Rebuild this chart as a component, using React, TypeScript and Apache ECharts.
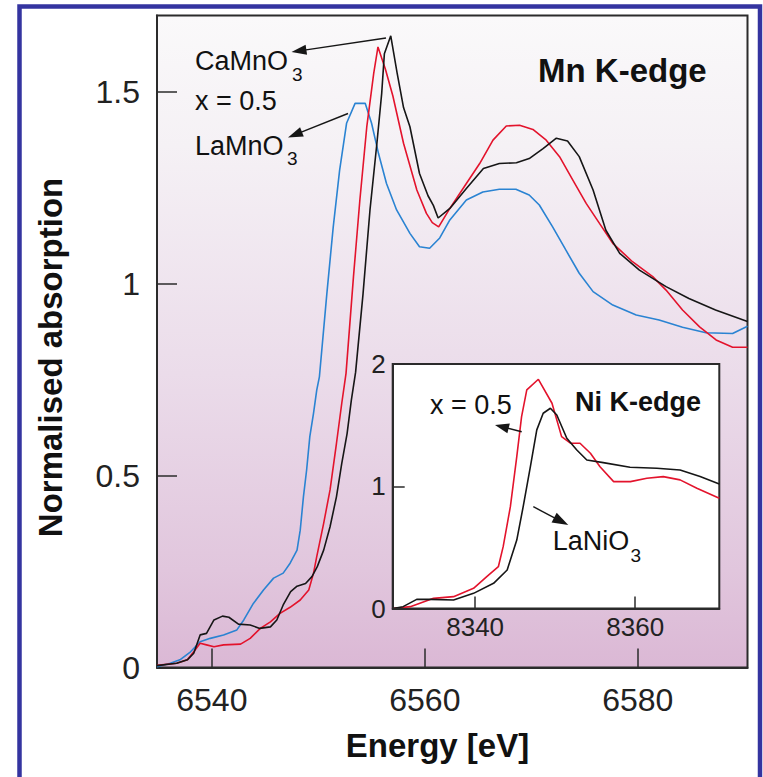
import React, { useEffect, useRef } from "react";
import * as echarts from "echarts";

// ---- Mn K-edge (main plot) ----
const mnTicksX = [6540, 6560, 6580];
const mnTicksY = [0, 0.5, 1, 1.5];

const caMnO3E = [6534.85, 6536.7, 6537.7, 6538.3, 6538.9, 6539.5, 6540.2, 6541.0, 6541.6, 6542.5, 6543.6, 6544.5, 6545.5, 6546.1, 6546.7, 6547.4, 6548.0, 6548.8, 6549.4, 6549.9, 6550.5, 6551.1, 6551.7, 6552.2, 6552.7, 6553.1, 6553.5, 6554.2, 6554.85, 6555.5, 6555.95, 6556.2, 6556.8, 6557.4, 6558.0, 6558.6, 6559.5, 6560.3, 6560.8, 6561.25, 6562.35, 6563.9, 6565.5, 6567.0, 6568.6, 6569.8, 6571.1, 6572.35, 6573.4, 6574.5, 6575.8, 6577.0, 6578.3, 6580.15, 6582.65, 6584.8, 6587.3, 6590.3];
const caMnO3Mu = [0.005, 0.011, 0.02, 0.037, 0.085, 0.089, 0.124, 0.134, 0.131, 0.113, 0.111, 0.102, 0.106, 0.124, 0.163, 0.198, 0.212, 0.219, 0.237, 0.263, 0.306, 0.367, 0.445, 0.532, 0.61, 0.697, 0.77, 0.975, 1.193, 1.367, 1.497, 1.6, 1.647, 1.55, 1.46, 1.41, 1.288, 1.23, 1.205, 1.172, 1.197, 1.249, 1.301, 1.314, 1.316, 1.327, 1.353, 1.38, 1.373, 1.332, 1.245, 1.14, 1.08, 1.036, 0.993, 0.962, 0.932, 0.902];

const mnMixE = [6534.85, 6536.7, 6537.7, 6538.3, 6538.9, 6539.5, 6540.2, 6541.1, 6542.7, 6543.6, 6544.55, 6545.5, 6546.4, 6547.35, 6548.3, 6549.1, 6549.55, 6549.85, 6550.5, 6551.1, 6551.7, 6552.2, 6552.6, 6553.3, 6553.9, 6554.55, 6555.2, 6555.6, 6556.3, 6557.0, 6558.0, 6559.25, 6560.15, 6560.7, 6561.3, 6562.35, 6563.9, 6565.15, 6566.4, 6567.65, 6568.9, 6570.15, 6571.4, 6572.65, 6573.9, 6575.15, 6576.4, 6577.65, 6579.5, 6581.4, 6582.65, 6584.2, 6585.8, 6587.35, 6588.9, 6590.3];
const mnMixMu = [0.006, 0.011, 0.02, 0.041, 0.063, 0.059, 0.054, 0.059, 0.061, 0.076, 0.102, 0.119, 0.141, 0.157, 0.176, 0.202, 0.246, 0.289, 0.376, 0.463, 0.584, 0.689, 0.767, 1.019, 1.219, 1.41, 1.549, 1.618, 1.56, 1.49, 1.367, 1.245, 1.184, 1.16, 1.149, 1.197, 1.262, 1.314, 1.375, 1.412, 1.414, 1.403, 1.375, 1.332, 1.271, 1.21, 1.158, 1.106, 1.058, 1.019, 0.984, 0.932, 0.888, 0.854, 0.835, 0.835];

const laMnO3E = [6534.85, 6536.1, 6537.0, 6538.0, 6538.9, 6539.85, 6541.1, 6542.35, 6543.0, 6543.9, 6544.85, 6545.8, 6546.7, 6547.35, 6548.0, 6548.3, 6548.6, 6548.9, 6549.2, 6549.55, 6549.85, 6550.1, 6550.8, 6551.4, 6552.0, 6552.65, 6553.45, 6554.4, 6555.0, 6555.65, 6556.4, 6557.35, 6558.6, 6559.5, 6560.45, 6561.4, 6562.35, 6563.9, 6565.45, 6567.0, 6568.55, 6569.8, 6570.75, 6572.0, 6573.25, 6574.5, 6575.8, 6577.65, 6579.85, 6582.0, 6584.2, 6586.4, 6588.9, 6590.3];
const laMnO3Mu = [0.002, 0.011, 0.02, 0.041, 0.067, 0.076, 0.085, 0.098, 0.124, 0.167, 0.202, 0.233, 0.246, 0.272, 0.306, 0.358, 0.445, 0.515, 0.602, 0.663, 0.723, 0.758, 0.975, 1.149, 1.297, 1.419, 1.471, 1.471, 1.419, 1.34, 1.262, 1.193, 1.132, 1.097, 1.093, 1.12, 1.167, 1.219, 1.24, 1.247, 1.247, 1.232, 1.206, 1.149, 1.088, 1.028, 0.98, 0.945, 0.919, 0.906, 0.887, 0.873, 0.871, 0.89];

// ---- Ni K-edge (inset) ----
const niTicksX = [8340, 8360];
const niTicksY = [0, 1, 2];

const niMixE = [8329.7, 8331.9, 8334.8, 8337.3, 8339.8, 8341.45, 8342.9, 8343.5, 8344.4, 8345.2, 8345.8, 8346.45, 8347.9, 8349.6, 8350.8, 8351.9, 8353.1, 8354.4, 8355.6, 8357.3, 8359.4, 8361.45, 8363.5, 8365.6, 8367.7, 8370.5];
const niMixMu = [0, 0.015, 0.083, 0.097, 0.165, 0.26, 0.342, 0.506, 0.833, 1.242, 1.57, 1.788, 1.875, 1.679, 1.406, 1.352, 1.352, 1.27, 1.16, 1.038, 1.038, 1.065, 1.079, 1.052, 0.984, 0.902];

const laNiO3E = [8329.7, 8331.0, 8332.7, 8334.4, 8337.3, 8339.8, 8342.3, 8344.0, 8345.2, 8346.0, 8346.9, 8347.7, 8348.5, 8349.4, 8350.2, 8351.45, 8352.7, 8353.95, 8356.0, 8359.35, 8362.7, 8365.6, 8368.1, 8370.5];
const laNiO3Mu = [0, 0.015, 0.075, 0.075, 0.07, 0.124, 0.206, 0.315, 0.56, 0.833, 1.16, 1.461, 1.597, 1.638, 1.583, 1.393, 1.297, 1.215, 1.193, 1.155, 1.147, 1.133, 1.079, 1.019];

const FONT = '"Liberation Sans", Arial, Helvetica, sans-serif';
const BLACK = "#161616";
const RED = "#e3132c";
const BLUE = "#2a83d2";
const AXIS = "#2b2b2b";

function pairs(xs: number[], ys: number[]) {
  return xs.map((x, i) => [x, ys[i]]);
}

const plain = (v: number) => String(v);

function arrow(x1: number, y1: number, x2: number, y2: number, head = 15, half = 5, lw = 1.4) {
  const dx = x2 - x1, dy = y2 - y1;
  const L = Math.hypot(dx, dy);
  const ux = dx / L, uy = dy / L;
  const bx = x2 - ux * head, by = y2 - uy * head;
  const px = -uy, py = ux;
  return [
    { type: "line", z: 20, shape: { x1, y1, x2: bx + ux * 2, y2: by + uy * 2 }, style: { stroke: BLACK, lineWidth: lw } },
    { type: "polygon", z: 20, shape: { points: [[x2, y2], [bx + px * half, by + py * half], [bx - px * half, by - py * half]] }, style: { fill: BLACK } },
  ];
}

function label(text: string, x: number, y: number, size: number, bold = false, align = "left", extra: any = {}) {
  return {
    type: "text", z: 20, x, y, ...extra,
    style: { text, fontSize: size, fontFamily: FONT, fontWeight: bold ? "bold" : "normal", fill: "#111", align, verticalAlign: "middle" },
  };
}

export default function App() {
  const ref = useRef<HTMLDivElement>(null);
  useEffect(() => {
    document.body.style.margin = "0";
    const chart = echarts.init(ref.current!, null, { renderer: "svg" });
    const bg = new echarts.graphic.LinearGradient(0, 0, 0, 1, [
      { offset: 0, color: "#faf9fa" },
      { offset: 0.2, color: "#f5f1f5" },
      { offset: 0.55, color: "#ebdcea" },
      { offset: 0.85, color: "#e1c6dd" },
      { offset: 1, color: "#dbb8d5" },
    ]);
    const line = (name: string, data: number[][], color: string, idx: number) => ({
      name, type: "line", data, xAxisIndex: idx, yAxisIndex: idx, showSymbol: false, symbol: "none",
      lineStyle: { color, width: 1.6 }, itemStyle: { color }, z: idx ? 8 : 2, silent: true,
    });
    const option: any = {
      animation: false,
      backgroundColor: "#ffffff",
      grid: [
        { left: 157, top: 15.5, right: 15.5, bottom: 109.5, show: true, backgroundColor: bg, borderColor: AXIS, borderWidth: 2, z: 0 },
        { left: 392.7, top: 364, right: 43.7, bottom: 168.5, show: true, backgroundColor: "#ffffff", borderColor: AXIS, borderWidth: 2, z: 5 },
      ],
      xAxis: [
        {
          gridIndex: 0, type: "value", min: 6534.85, max: 6590.3,
          axisLine: { show: true, onZero: false, lineStyle: { color: AXIS, width: 2 } },
          axisTick: { show: true, inside: true, length: 19, customValues: mnTicksX, lineStyle: { color: AXIS, width: 1.5 } },
          axisLabel: { customValues: mnTicksX, formatter: plain, fontSize: 32, fontFamily: FONT, color: "#222", margin: 16 },
          splitLine: { show: false },
        },
        {
          gridIndex: 1, type: "value", min: 8329.7, max: 8370.5, z: 9,
          axisLine: { show: true, onZero: false, lineStyle: { color: AXIS, width: 2 } },
          axisTick: { show: true, inside: true, length: 12, customValues: niTicksX, lineStyle: { color: AXIS, width: 1.5 } },
          axisLabel: { customValues: niTicksX, formatter: plain, fontSize: 26, fontFamily: FONT, color: "#222", margin: 5 },
          splitLine: { show: false },
        },
      ],
      yAxis: [
        {
          gridIndex: 0, type: "value", min: 0, max: 1.7,
          axisLine: { show: true, onZero: false, lineStyle: { color: AXIS, width: 2 } },
          axisTick: { show: true, inside: true, length: 20, customValues: mnTicksY, lineStyle: { color: AXIS, width: 1.5 } },
          axisLabel: { customValues: mnTicksY, formatter: plain, fontSize: 32, fontFamily: FONT, color: "#222", margin: 17 },
          splitLine: { show: false },
        },
        {
          gridIndex: 1, type: "value", min: 0, max: 2, z: 9,
          axisLine: { show: true, onZero: false, lineStyle: { color: AXIS, width: 2 } },
          axisTick: { show: true, inside: true, length: 12, customValues: niTicksY, lineStyle: { color: AXIS, width: 1.5 } },
          axisLabel: { customValues: niTicksY, formatter: plain, fontSize: 26, fontFamily: FONT, color: "#222", margin: 7 },
          splitLine: { show: false },
        },
      ],
      series: [
        line("LaMnO3", pairs(laMnO3E, laMnO3Mu), BLUE, 0),
        line("x = 0.5", pairs(mnMixE, mnMixMu), RED, 0),
        line("CaMnO3", pairs(caMnO3E, caMnO3Mu), BLACK, 0),
        line("x = 0.5 (Ni)", pairs(niMixE, niMixMu), RED, 1),
        line("LaNiO3", pairs(laNiO3E, laNiO3Mu), BLACK, 1),
      ],
      graphic: [
        { type: "rect", z: 30, shape: { x: 19.5, y: 6.5, width: 740.5, height: 800 }, style: { fill: "none", stroke: "#3434a0", lineWidth: 4.5 } },
        label("Mn K-edge", 538, 70, 33, true),
        label("Energy [eV]", 437.5, 745, 33, true, "center"),
        label("Normalised absorption", 50, 357.5, 33, true, "center", { rotation: Math.PI / 2 }),
        label("CaMnO", 195, 61, 27),
        label("3", 292, 74, 19),
        label("x = 0.5", 195, 101, 27),
        label("LaMnO", 195, 146, 27),
        label("3", 287, 158, 19),
        ...arrow(386, 38, 291.5, 52),
        ...arrow(348, 113.5, 288, 137.5),
        label("Ni K-edge", 638, 401.7, 27, true, "center"),
        label("x = 0.5", 430, 405, 27),
        label("LaNiO", 552.7, 541, 27),
        label("3", 630.5, 555, 19),
        ...arrow(521.7, 431.7, 495, 425, 14, 5),
        ...arrow(533.3, 506.7, 568.3, 525, 16, 5.5),
      ],
    };
    chart.setOption(option);
    return () => chart.dispose();
  }, []);
  return <div ref={ref} style={{ width: 763, height: 777 }} />;
}
